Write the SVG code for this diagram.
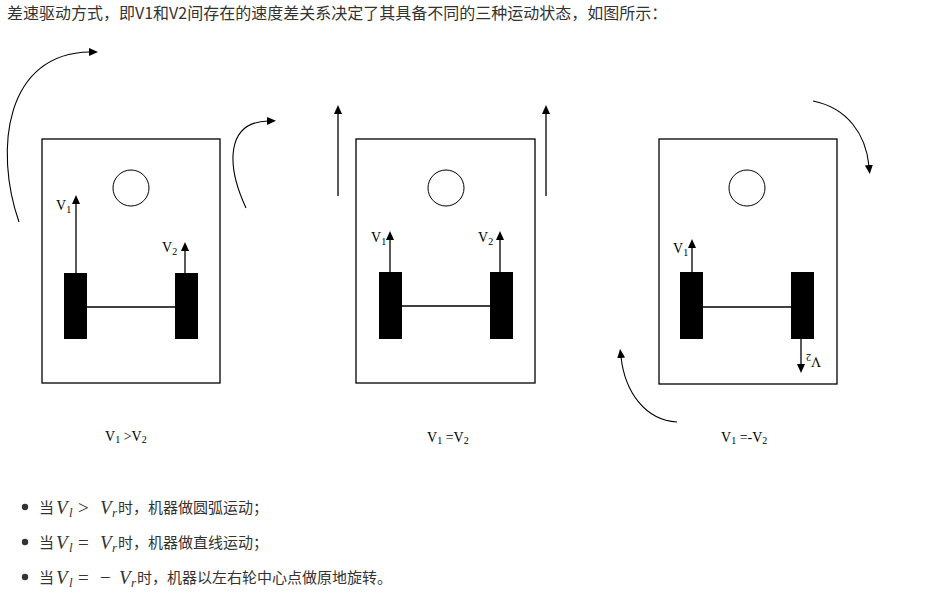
<svg xmlns="http://www.w3.org/2000/svg" width="925" height="598" viewBox="0 0 925 598">
<style>
.box{fill:none;stroke:#000;stroke-width:1.3}
.wheel{fill:#000}
.axle{stroke:#000;stroke-width:1.3}
.hub{fill:none;stroke:#000;stroke-width:1}
.arr{fill:none;stroke:#000;stroke-width:1.3}
.arc{fill:none;stroke:#000;stroke-width:1.1}
.lbl{font-family:"Liberation Serif","Times New Roman",serif;font-size:14px;fill:#000}
.sub{font-size:10px}
.cn{font-family:"Noto Sans CJK SC","Noto Sans",sans-serif;fill:#333}
.m{font-family:"Liberation Serif","Times New Roman",serif;font-style:italic;font-size:19px;fill:#333}
.ms{font-family:"Liberation Serif","Times New Roman",serif;font-style:italic;font-size:13px;fill:#333}
.mo{font-family:"Liberation Serif","Times New Roman",serif;font-size:19px;fill:#333}
</style>
<defs>
<marker id="ah" markerUnits="userSpaceOnUse" markerWidth="10" markerHeight="10" viewBox="0 0 10 8" refX="1" refY="4" orient="auto">
<path d="M0,0 L9,4 L0,8 z" fill="#000"/>
</marker>
</defs>
<rect width="925" height="598" fill="#fff"/>
<text class="cn" x="7" y="18.5" font-size="16">差速驱动方式，即V1和V2间存在的速度差关系决定了其具备不同的三种运动状态，如图所示：</text>

<g id="panel1">
<rect class="box" x="42" y="139" width="178" height="244"/>
<circle class="hub" cx="131" cy="188" r="18"/>
<rect class="wheel" x="64" y="273" width="23" height="66"/>
<rect class="wheel" x="175" y="273" width="23" height="66"/>
<line class="axle" x1="87" y1="307" x2="175" y2="307"/>
<text class="lbl" x="56" y="210">V<tspan class="sub" dy="3">1</tspan></text>
<text class="lbl" x="162" y="252">V<tspan class="sub" dy="3">2</tspan></text>
<text class="lbl" x="105" y="441">V<tspan class="sub" dy="2">1</tspan><tspan dy="-2"> &gt;V</tspan><tspan class="sub" dy="2">2</tspan></text>
</g>

<g id="panel2">
<rect class="box" x="356" y="139" width="179" height="244"/>
<circle class="hub" cx="446" cy="188" r="18"/>
<rect class="wheel" x="379" y="272" width="23" height="67"/>
<rect class="wheel" x="490" y="272" width="23" height="67"/>
<line class="axle" x1="402" y1="306" x2="490" y2="306"/>
<text class="lbl" x="371" y="242">V<tspan class="sub" dy="3">1</tspan></text>
<text class="lbl" x="478" y="242">V<tspan class="sub" dy="3">2</tspan></text>
<text class="lbl" x="427" y="442">V<tspan class="sub" dy="2">1</tspan><tspan dy="-2"> =V</tspan><tspan class="sub" dy="2">2</tspan></text>
</g>

<g id="panel3">
<rect class="box" x="659" y="139" width="178" height="245"/>
<circle class="hub" cx="747" cy="188" r="18"/>
<rect class="wheel" x="680" y="272" width="23" height="67"/>
<rect class="wheel" x="791" y="272" width="23" height="67"/>
<line class="axle" x1="703" y1="307" x2="791" y2="307"/>
<text class="lbl" x="673" y="253">V<tspan class="sub" dy="3">1</tspan></text>
<text class="lbl" x="806" y="363" transform="rotate(180 813.5 360)">V<tspan class="sub" dy="3">2</tspan></text>
<text class="lbl" x="721" y="442">V<tspan class="sub" dy="2">1</tspan><tspan dy="-2"> =-V</tspan><tspan class="sub" dy="2">2</tspan></text>
</g>

<g id="connectors">
<line class="arr" x1="76" y1="273" x2="76" y2="203" marker-end="url(#ah)"/>
<line class="arr" x1="185" y1="273" x2="185" y2="250" marker-end="url(#ah)"/>
<line class="arr" x1="390" y1="272" x2="390" y2="239" marker-end="url(#ah)"/>
<line class="arr" x1="500" y1="272" x2="500" y2="239" marker-end="url(#ah)"/>
<line class="arr" x1="338" y1="196" x2="338" y2="113" marker-end="url(#ah)"/>
<line class="arr" x1="546" y1="196" x2="546" y2="113" marker-end="url(#ah)"/>
<line class="arr" x1="692" y1="272" x2="692" y2="247" marker-end="url(#ah)"/>
<line class="arr" x1="801" y1="339" x2="801" y2="365" marker-end="url(#ah)"/>
<path class="arc" d="M19,222 C-6,150 5,53 90,52" marker-end="url(#ah)"/>
<path class="arc" d="M246,208 C226,165 226,122 268,121" marker-end="url(#ah)"/>
<path class="arc" d="M813,101 C848,108 866,135 869,166" marker-end="url(#ah)"/>
<path class="arc" d="M677,422 C645,420 625,392 621,357" marker-end="url(#ah)"/>
</g>

<g id="bullets">
<circle cx="25" cy="507" r="3.2" fill="#333"/>
<text class="cn" x="39" y="513" font-size="15">当</text>
<text class="m" x="56" y="514">V</text><text class="ms" x="69" y="517">l</text>
<text class="mo" x="78" y="514">&gt;</text>
<text class="m" x="100" y="514">V</text><text class="ms" x="112" y="517">r</text>
<text class="cn" x="118" y="513" font-size="15">时，机器做圆弧运动；</text>

<circle cx="25" cy="542" r="3.2" fill="#333"/>
<text class="cn" x="39" y="548" font-size="15">当</text>
<text class="m" x="56" y="549">V</text><text class="ms" x="69" y="552">l</text>
<text class="mo" x="78" y="549">=</text>
<text class="m" x="100" y="549">V</text><text class="ms" x="112" y="552">r</text>
<text class="cn" x="118" y="548" font-size="15">时，机器做直线运动；</text>

<circle cx="25" cy="577" r="3.2" fill="#333"/>
<text class="cn" x="39" y="583" font-size="15">当</text>
<text class="m" x="56" y="584">V</text><text class="ms" x="69" y="587">l</text>
<text class="mo" x="78" y="584">=</text>
<text class="mo" x="100" y="584">−</text>
<text class="m" x="119" y="584">V</text><text class="ms" x="131" y="587">r</text>
<text class="cn" x="137" y="583" font-size="15">时，机器以左右轮中心点做原地旋转。</text>
</g>
</svg>
